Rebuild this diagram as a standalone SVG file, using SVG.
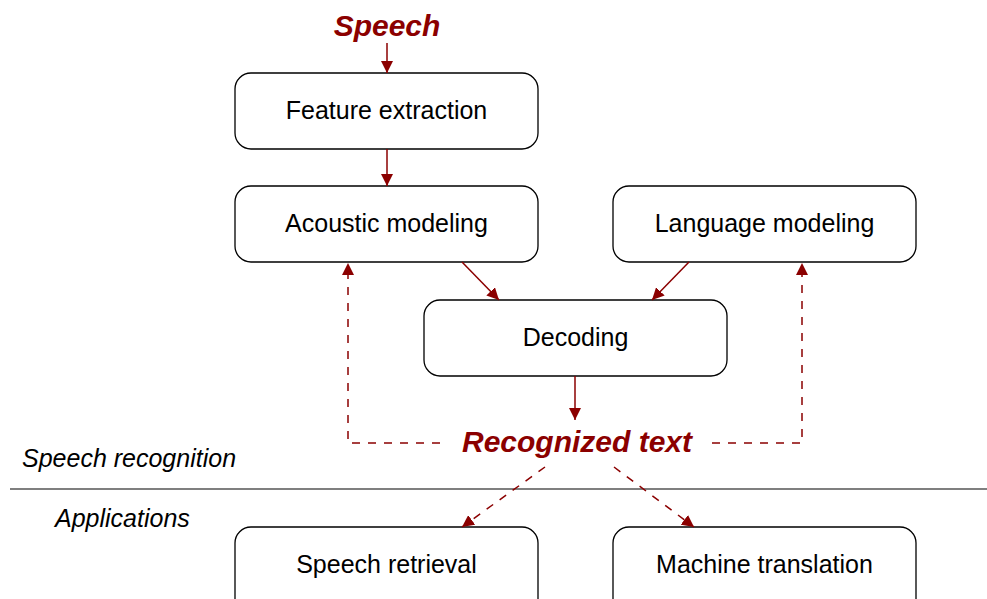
<svg xmlns="http://www.w3.org/2000/svg" width="987" height="599" viewBox="0 0 987 599">
<style>
.box{fill:#fff;stroke:#000;stroke-width:1.3}
.lbl{font-family:"Liberation Sans",Arial,sans-serif;font-size:25px;fill:#000;text-anchor:middle}
.hl{font-family:"Liberation Sans",Arial,sans-serif;font-size:30px;font-weight:bold;font-style:italic;fill:#8b0000;text-anchor:middle}
.sec{font-family:"Liberation Sans",Arial,sans-serif;font-size:25px;font-style:italic;fill:#000}
.c{stroke:#8b0000;stroke-width:1.5;fill:none}
.d{stroke-dasharray:8,8}
</style>
<defs>
<marker id="ah" viewBox="0 0 10 10" refX="10" refY="5" markerWidth="12" markerHeight="12" markerUnits="userSpaceOnUse" orient="auto">
<path d="M0,0 L10,5 L0,10 z" fill="#8b0000"/>
</marker>
</defs>
<g id="speech"><text class="hl" x="387" y="36">Speech</text></g>
<g id="feature"><rect class="box" x="235" y="73" width="303" height="76" rx="16"/><text class="lbl" x="386.5" y="119">Feature extraction</text></g>
<g id="acoustic"><rect class="box" x="235" y="186" width="303" height="76" rx="16"/><text class="lbl" x="386.5" y="232">Acoustic modeling</text></g>
<g id="language"><rect class="box" x="613" y="186" width="303" height="76" rx="16"/><text class="lbl" x="764.5" y="232">Language modeling</text></g>
<g id="decoding"><rect class="box" x="424" y="300" width="303" height="76" rx="16"/><text class="lbl" x="575.5" y="346">Decoding</text></g>
<g id="recognized"><text class="hl" x="577" y="452">Recognized text</text></g>
<g id="retrieval"><rect class="box" x="235" y="527" width="303" height="90" rx="16"/><text class="lbl" x="386.5" y="573">Speech retrieval</text></g>
<g id="translation"><rect class="box" x="613" y="527" width="303" height="90" rx="16"/><text class="lbl" x="764.5" y="573">Machine translation</text></g>
<g id="sections">
<line x1="10" y1="489" x2="987" y2="489" stroke="#000" stroke-width="1.2"/>
<text class="sec" x="22" y="467">Speech recognition</text>
<text class="sec" x="55" y="527">Applications</text>
</g>
<g id="connectors">
<line class="c" x1="387" y1="43" x2="387" y2="73" marker-end="url(#ah)"/>
<line class="c" x1="387" y1="149" x2="387" y2="186" marker-end="url(#ah)"/>
<line class="c" x1="462" y1="262" x2="499" y2="300" marker-end="url(#ah)"/>
<line class="c" x1="689" y1="262" x2="652" y2="300" marker-end="url(#ah)"/>
<line class="c" x1="575" y1="376" x2="575" y2="420" marker-end="url(#ah)"/>
<polyline class="c d" points="440,443 348,443 348,263" marker-end="url(#ah)"/>
<polyline class="c d" points="712,443 802,443 802,263" marker-end="url(#ah)"/>
<line class="c d" x1="545" y1="467" x2="462" y2="527" marker-end="url(#ah)"/>
<line class="c d" x1="614" y1="467" x2="694" y2="527" marker-end="url(#ah)"/>
</g>
</svg>
